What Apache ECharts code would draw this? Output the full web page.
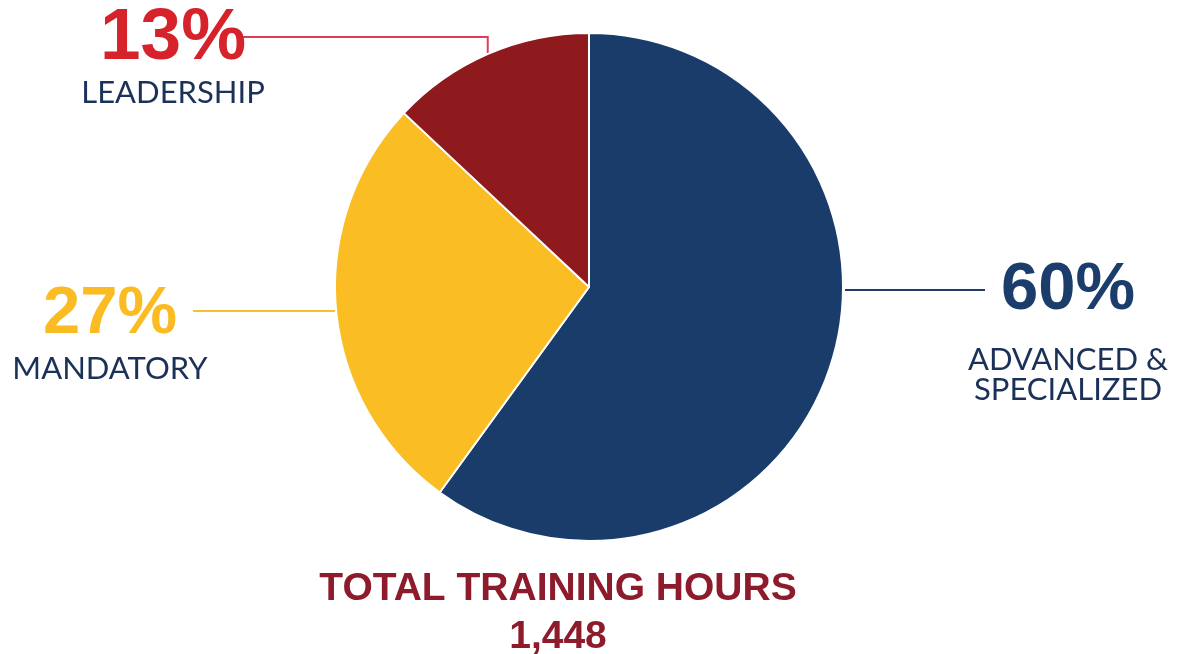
<!DOCTYPE html>
<html>
<head>
<meta charset="utf-8">
<title>Total Training Hours</title>
<script src="https://cdn.jsdelivr.net/npm/echarts@6/dist/echarts.min.js"></script>
<style>
  html, body { margin: 0; padding: 0; background: #ffffff; }
  #chart { width: 1185px; height: 654px; }
</style>
</head>
<body>
<div id="chart"></div>
<script>
  "use strict";

  // data
  var categories = ['ADVANCED &\nSPECIALIZED', 'MANDATORY', 'LEADERSHIP'];
  var shares = [60, 27, 13];
  var totalHours = '1,448';
  var totalLabel = 'TOTAL TRAINING HOURS';

  var sliceColors = ['#1a3c6b', '#fbbd24', '#8e1a1e'];
  var pctColors = ['#1b3d6b', '#fbbb22', '#d6232b'];
  var lineColors = ['#1d3e6b', '#f7c02e', '#e23c5b'];

  // pie geometry (pixels)
  var CX = 589, CY = 287, R = 254;

  // label anchors: top-centre of each label block, and % size
  var anchors = [
    { x: 1068, y: 237, size: 67 },
    { x: 110, y: 279, size: 67 },
    { x: 173, y: 3, size: 73 }
  ];

  var total = shares.reduce(function (s, v) { return s + v; }, 0);

  // clockwise angle from 12 o'clock of each slice's middle
  function midAngle(i) {
    var before = 0;
    for (var k = 0; k < i; k++) before += shares[k];
    return (before + shares[i] / 2) / total * 2 * Math.PI;
  }

  function arcPoint(theta, r) {
    return [CX + r * Math.sin(theta), CY - r * Math.cos(theta)];
  }

  function leaderLine(i) {
    if (i === 0) {
      // horizontal line off the right rim
      var y = 290;
      var x = CX + Math.sqrt(R * R - (y - CY) * (y - CY)) + 2;
      return [[x, y], [x, y], [985, y]];
    }
    var p = arcPoint(midAngle(i), R + 1);
    if (i === 1) {
      return [p, p, [193, p[1]]];
    }
    return [p, [p[0], 37], [241, 37]];
  }

  var chart = echarts.init(document.getElementById('chart'), null, { renderer: 'canvas' });

  var pctFont = '"Liberation Sans", Arial, sans-serif';
  var nameFont = 'Lato, "Open Sans", sans-serif';

  var data = categories.map(function (name, i) {
    var big = i === 0 ? 108 : 72;
    return {
      name: name,
      value: shares[i],
      itemStyle: { color: sliceColors[i] },
      label: {
        formatter: '{pct|' + shares[i] + '%}\n{name|' + name.split('\n').join('}\n{name|') + '}',
        rich: {
          pct: {
            fontFamily: pctFont, fontWeight: 'bold', fontSize: anchors[i].size,
            color: pctColors[i], lineHeight: big, align: 'center'
          },
          name: {
            fontFamily: nameFont, fontSize: 31, color: '#1b3158',
            lineHeight: i === 0 ? 30 : 35, align: 'center'
          }
        }
      },
      labelLine: { lineStyle: { color: lineColors[i], width: 2 } }
    };
  });

  chart.setOption({
    backgroundColor: '#ffffff',
    animation: false,
    series: [{
      type: 'pie',
      center: [CX, CY],
      radius: R,
      startAngle: 90,
      clockwise: true,
      avoidLabelOverlap: false,
      itemStyle: { borderColor: '#ffffff', borderWidth: 2 },
      label: { show: true, position: 'outside' },
      labelLine: { show: true, smooth: false },
      labelLayout: function (p) {
        var a = anchors[p.dataIndex];
        return {
          x: a.x,
          y: a.y,
          align: 'center',
          verticalAlign: 'top',
          labelLinePoints: leaderLine(p.dataIndex)
        };
      },
      emphasis: { disabled: true },
      data: data
    }],
    graphic: [{
      type: 'text',
      x: 558,
      y: 565,
      style: {
        text: totalLabel + '\n' + totalHours,
        fill: '#8d1b2b',
        font: 'bold 39px "Liberation Sans", Arial, sans-serif',
        textAlign: 'center',
        lineHeight: 48
      }
    }]
  });
</script>
</body>
</html>
